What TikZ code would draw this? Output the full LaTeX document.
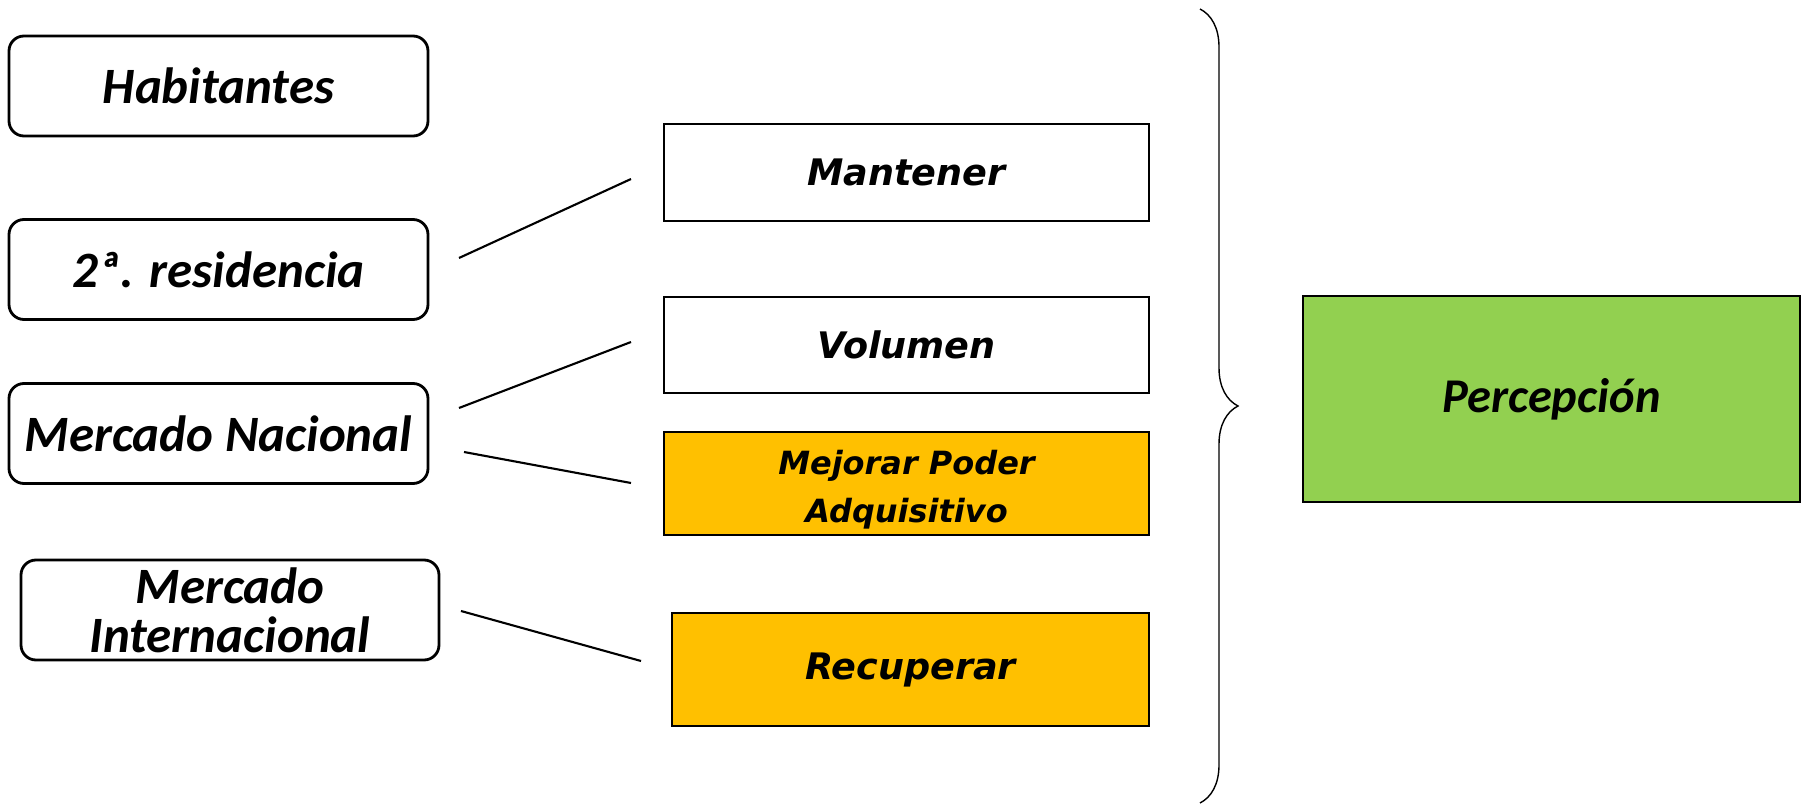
\documentclass[tikz,border=0pt]{standalone}
\usepackage{fontspec}
\setmainfont{Carlito}
\newfontfamily\verdana{DejaVu Sans}[BoldItalicFont={DejaVu Sans Bold Oblique}]
\usetikzlibrary{decorations.pathreplacing}

\begin{document}
\begin{tikzpicture}[
		left-box/.style={draw, rounded corners=0.15cm, line width=0.8pt, minimum width=4.19cm, minimum height=1.0cm, inner sep=0pt, align=center, font=\fontsize{14.5}{14}\selectfont\bfseries\itshape},
		goal-box/.style={draw, line width=0.8pt, minimum width=4.85cm, inner sep=0pt, align=center, font=\verdana\fontsize{10.4}{14}\selectfont\bfseries\itshape},
		link/.style={line width=0.6pt}
	]
				\useasboundingbox (0, 0) rectangle (18.07, -8.06);

				\node[left-box] at (2.185, -0.86) (habitantes) {Habitantes};
				\node[left-box] at (2.185, -2.695) (segunda-residencia) {2ª. residencia};
				\node[left-box] at (2.185, -4.335) (mercado-nacional) {Mercado Nacional};
				\node[left-box, minimum width=4.18cm] at (2.30, -6.10) (mercado-internacional) {Mercado\\Internacional};

				\node[goal-box, minimum height=0.97cm] at (9.065, -1.725) (mantener) {Mantener};
				\node[goal-box, minimum height=0.96cm] at (9.065, -3.45) (volumen) {Volumen};
				\node[goal-box, minimum height=1.03cm, fill={rgb,255:red,255;green,192;blue,0}, font=\verdana\fontsize{9.1}{13.5}\selectfont\bfseries\itshape] at (9.065, -4.835) (mejorar-poder) {\raisebox{-3.8pt}[0pt][0pt]{\begin{tabular}{@{}c@{}}Mejorar Poder\\Adquisitivo\end{tabular}}};
				\node[goal-box, minimum width=4.77cm, minimum height=1.13cm, fill={rgb,255:red,255;green,192;blue,0}] at (9.105, -6.695) (recuperar) {Recuperar};

				\node[draw, line width=0.8pt, minimum width=4.97cm, minimum height=2.06cm, fill={rgb,255:red,146;green,208;blue,80}, font=\fontsize{13.8}{16}\selectfont\bfseries\itshape] at (15.515, -3.99) (percepcion) {Percepción};

				\coordinate (segunda-residencia-out) at (4.59, -2.58);
				\coordinate (mantener-in) at (6.31, -1.79);
				\coordinate (nacional-out-upper) at (4.59, -4.08);
				\coordinate (volumen-in) at (6.31, -3.42);
				\coordinate (nacional-out-lower) at (4.64, -4.52);
				\coordinate (mejorar-poder-in) at (6.31, -4.83);
				\coordinate (internacional-out) at (4.61, -6.11);
				\coordinate (recuperar-in) at (6.41, -6.61);
				\coordinate (brace-top) at (12.0, -0.09);
				\coordinate (brace-bottom) at (12.0, -8.03);

				\draw[link] (segunda-residencia-out) -- (mantener-in);
				\draw[link] (nacional-out-upper) -- (volumen-in);
				\draw[link] (nacional-out-lower) -- (mejorar-poder-in);
				\draw[link] (internacional-out) -- (recuperar-in);
				\draw[line width=0.4pt, decorate, decoration={brace, amplitude=0.38cm}] (brace-top) -- (brace-bottom);
			\end{tikzpicture}
\end{document}
